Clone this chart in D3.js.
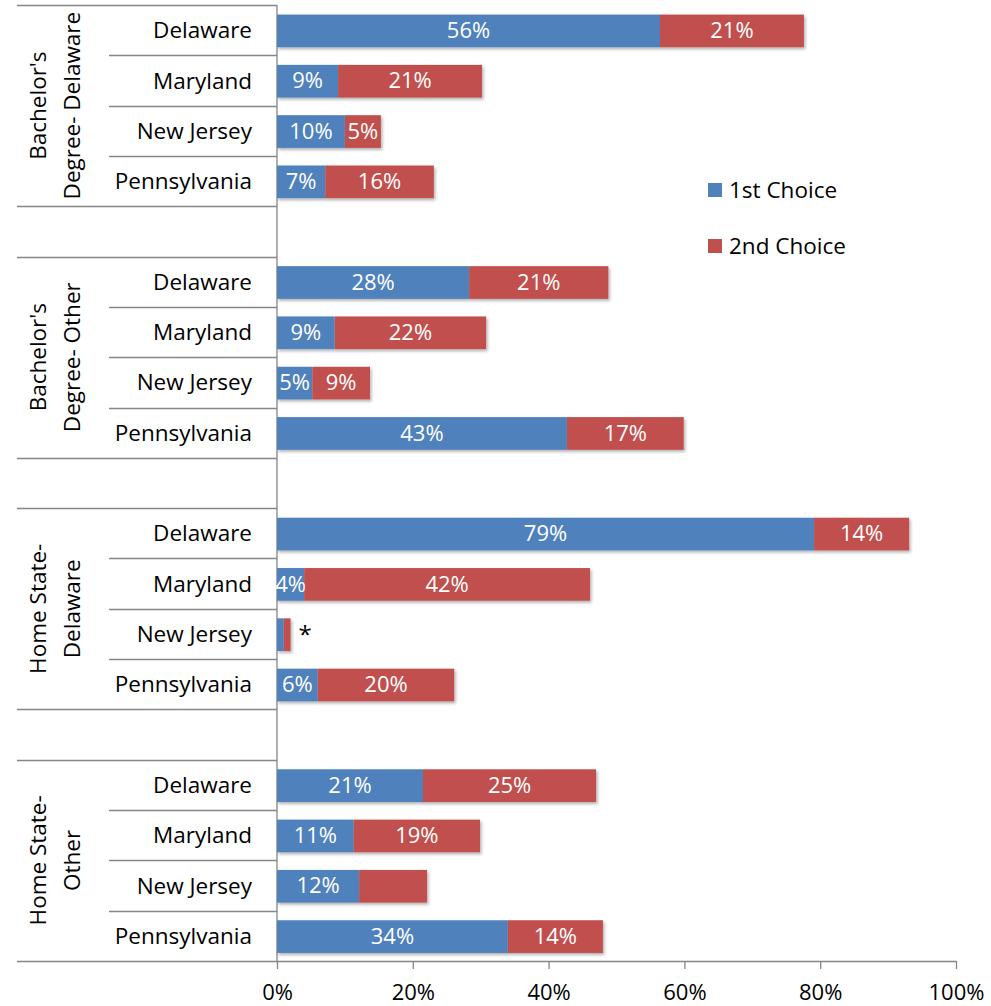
<!DOCTYPE html>
<html lang="en">
<head>
<meta charset="utf-8">
<title>1st and 2nd choice by state</title>
<script src="https://cdn.jsdelivr.net/npm/d3@7"></script>
<style>
  body { margin: 0; background: #fff; }
  text { font-family: "Open Sans", Lato, sans-serif; }
</style>
</head>
<body>
<script>
// group labels, two lines each (rotated on the left)
var groups = [["Bachelor's", "Degree- Delaware"], ["Bachelor's", "Degree- Other"], ["Home State-", "Delaware"], ["Home State-", "Other"]];
var states = ["Delaware", "Maryland", "New Jersey", "Pennsylvania"];
var series = ["1st Choice", "2nd Choice"];
// values in %, one row per group, one column per state
var first = [[56.4, 9.0, 10.0, 7.1], [28.3, 8.5, 5.2, 42.7], [79.1, 4.0, 1.0, 6.0], [21.5, 11.3, 12.1, 34.0]];
var second = [[21.2, 21.2, 5.3, 16.0], [20.5, 22.3, 8.5, 17.2], [14.0, 42.1, 1.0, 20.1], [25.5, 18.6, 10.0, 14.0]];
var firstLabels = [["56%", "9%", "10%", "7%"], ["28%", "9%", "5%", "43%"], ["79%", "4%", "", "6%"], ["21%", "11%", "12%", "34%"]];
var secondLabels = [["21%", "21%", "5%", "16%"], ["21%", "22%", "9%", "17%"], ["14%", "42%", "", "20%"], ["25%", "19%", "", "14%"]];
var notes = [{ group: 2, state: 2, text: "*" }];
var xTicks = [0, 20, 40, 60, 80, 100];

var width = 991, height = 1006;
var colors = ["#4f81bd", "#c0504d"];
var lineColor = "#868686";
var font = "'Open Sans', Lato, sans-serif";

var svg = d3.select("body").append("svg")
  .attr("width", width)
  .attr("height", height);

// soft shadow under the bars
var defs = svg.append("defs");
defs.append("filter").attr("id", "shadow")
  .attr("x", "-5%").attr("y", "-20%").attr("width", "115%").attr("height", "160%")
  .append("feDropShadow")
  .attr("dx", 1.5).attr("dy", 2).attr("stdDeviation", 1.5)
  .attr("flood-color", "#000").attr("flood-opacity", 0.3);

// build row list: 4 states per group, a blank row between groups
var rows = [];
groups.forEach(function(g, gi) {
  states.forEach(function(s, si) {
    rows.push({ key: gi + "|" + si, g: gi, s: si });
  });
  if (gi < groups.length - 1) rows.push({ key: "gap" + gi, gap: true });
});
var data = rows.filter(function(r) { return !r.gap; });

var y = d3.scaleBand()
  .domain(rows.map(function(r) { return r.key; }))
  .range([5, 961]);
var bw = y.bandwidth();

var x = d3.scaleLinear()
  .domain([0, 100])
  .range([277, 956]);

// separator lines on the category side
var seps = [];
groups.forEach(function(g, gi) {
  states.forEach(function(s, si) {
    var top = y(gi + "|" + si);
    seps.push({ y: top, x0: si == 0 ? 17 : 109 });
  });
  seps.push({ y: y(gi + "|" + (states.length - 1)) + bw, x0: 17 });
});
svg.selectAll("line.sep")
  .data(seps)
  .enter()
  .append("line")
  .attr("class", "sep")
  .attr("x1", function(d) { return d.x0; })
  .attr("x2", x(0))
  .attr("y1", function(d) { return Math.round(d.y) + 0.5; })
  .attr("y2", function(d) { return Math.round(d.y) + 0.5; })
  .attr("stroke", lineColor)
  .attr("stroke-width", 1.3);

// vertical axis line
svg.append("line")
  .attr("x1", x(0)).attr("x2", x(0))
  .attr("y1", 5).attr("y2", 961)
  .attr("stroke", lineColor)
  .attr("stroke-width", 1.3);

// bottom axis
var axis = svg.append("g")
  .attr("transform", "translate(0,961)")
  .call(d3.axisBottom(x).tickValues(xTicks).tickSize(8).tickSizeOuter(0)
    .tickFormat(function(d) { return d + "%"; }));
axis.select(".domain").attr("stroke", lineColor).attr("stroke-width", 1.3);
axis.selectAll(".tick line").attr("stroke", lineColor).attr("stroke-width", 1.3);
axis.selectAll(".tick text")
  .attr("y", 39).attr("dy", 0)
  .attr("fill", "#000")
  .style("font-size", "22px")
  .style("font-family", font);

// bars
var stackRows = data.map(function(r) {
  return { key: r.key, a: first[r.g][r.s], b: second[r.g][r.s], la: firstLabels[r.g][r.s], lb: secondLabels[r.g][r.s] };
});
var segs = [];
stackRows.forEach(function(r) {
  segs.push({ key: r.key, x0: 0, x1: r.a, c: 0, label: r.la });
  segs.push({ key: r.key, x0: r.a, x1: r.a + r.b, c: 1, label: r.lb });
});

var barG = svg.append("g").attr("filter", "url(#shadow)");
barG.selectAll("rect")
  .data(segs)
  .enter()
  .append("rect")
  .attr("x", function(d) { return x(d.x0); })
  .attr("width", function(d) { return x(d.x1) - x(d.x0); })
  .attr("y", function(d) { return y(d.key) + bw * 0.19; })
  .attr("height", bw * 0.65)
  .attr("fill", function(d) { return colors[d.c]; });

svg.selectAll("text.val")
  .data(segs.filter(function(d) { return d.label; }))
  .enter()
  .append("text")
  .attr("class", "val")
  .attr("x", function(d) { return (x(d.x0) + x(d.x1)) / 2; })
  .attr("y", function(d) { return y(d.key) + bw / 2; })
  .attr("dy", "0.36em")
  .attr("text-anchor", "middle")
  .attr("fill", "#fff")
  .style("font-size", "22px")
  .text(function(d) { return d.label; });

// note marker past the tiny bar
svg.selectAll("text.note")
  .data(notes)
  .enter()
  .append("text")
  .attr("class", "note")
  .attr("x", function(d) { return x(first[d.group][d.state] + second[d.group][d.state]) + 8; })
  .attr("y", function(d) { return y(d.group + "|" + d.state) + bw / 2; })
  .attr("dy", "0.36em")
  .attr("fill", "#000")
  .style("font-size", "24px")
  .text(function(d) { return d.text; });

// state labels
svg.selectAll("text.cat")
  .data(data)
  .enter()
  .append("text")
  .attr("class", "cat")
  .attr("x", 252)
  .attr("y", function(d) { return y(d.key) + bw / 2; })
  .attr("dy", "0.36em")
  .attr("text-anchor", "end")
  .attr("fill", "#000")
  .style("font-size", "22.5px")
  .text(function(d) { return states[d.s]; });

// group labels, rotated
groups.forEach(function(g, gi) {
  var cy = (y(gi + "|0") + y(gi + "|" + (states.length - 1)) + bw) / 2;
  g.forEach(function(line, li) {
    svg.append("text")
      .attr("transform", "translate(" + (38 + li * 34) + "," + cy + ") rotate(-90)")
      .attr("dy", "0.36em")
      .attr("text-anchor", "middle")
      .attr("fill", "#000")
      .style("font-size", "22.5px")
      .text(line);
  });
});

// legend
var legend = svg.selectAll("g.legend")
  .data(series)
  .enter()
  .append("g")
  .attr("class", "legend")
  .attr("transform", function(d, i) { return "translate(708," + (190 + i * 56) + ")"; });
legend.append("rect")
  .attr("x", 0).attr("y", -7)
  .attr("width", 14).attr("height", 14)
  .attr("fill", function(d, i) { return colors[i]; });
legend.append("text")
  .attr("x", 21)
  .attr("dy", "0.36em")
  .attr("fill", "#000")
  .style("font-size", "22.5px")
  .text(function(d) { return d; });
</script>
</body>
</html>
